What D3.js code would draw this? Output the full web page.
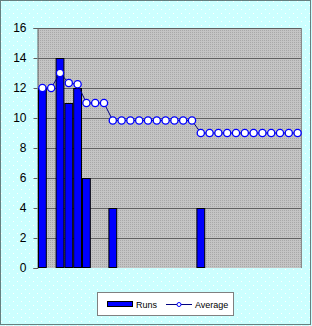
<!DOCTYPE html>
<html>
<head>
<meta charset="utf-8">
<script src="https://cdn.jsdelivr.net/npm/d3@7"></script>
<style>
  body { margin: 0; background: #fff; }
  svg { display: block; font-family: Arial, "Liberation Sans", sans-serif; }
</style>
</head>
<body>
<div id="chart"></div>
<script>
const innings = d3.range(1, 31);
const runs = [12, null, 14, 11, 12, 6, null, null, 4, null, null, null, null, null, null, null, null, null, 4, null, null, null, null, null, null, null, null, null, null, null];
const average = [12, 12, 13, 12.33, 12.25, 11, 11, 11,
  9.83, 9.83, 9.83, 9.83, 9.83, 9.83, 9.83, 9.83, 9.83, 9.83,
  9, 9, 9, 9, 9, 9, 9, 9, 9, 9, 9, 9];
const yTicks = [0, 2, 4, 6, 8, 10, 12, 14, 16];

const W = 312, H = 326;
const plot = { left: 38, top: 28, right: 302, bottom: 268 };

const svg = d3.select('#chart').append('svg')
  .attr('width', W).attr('height', H);

const defs = svg.append('defs');
// dotted cyan background
const bgPat = defs.append('pattern').attr('id', 'bgdots')
  .attr('width', 8).attr('height', 8).attr('patternUnits', 'userSpaceOnUse');
bgPat.append('rect').attr('width', 8).attr('height', 8).attr('fill', '#ccffff');
bgPat.append('rect').attr('x', 1).attr('y', 1).attr('width', 1).attr('height', 1).attr('fill', '#ffffff');
bgPat.append('rect').attr('x', 5).attr('y', 5).attr('width', 1).attr('height', 1).attr('fill', '#ffffff');
// dotted grey plot area
const plPat = defs.append('pattern').attr('id', 'plotdots')
  .attr('width', 2).attr('height', 2).attr('patternUnits', 'userSpaceOnUse');
plPat.append('rect').attr('width', 2).attr('height', 2).attr('fill', '#c4c4c4');
plPat.append('rect').attr('width', 1).attr('height', 1).attr('fill', '#a8a8a8');

svg.append('rect').attr('width', W).attr('height', H).attr('fill', 'url(#bgdots)');
svg.append('rect')
  .attr('x', 0.5).attr('y', 0.5).attr('width', W - 2).attr('height', H - 2)
  .attr('fill', 'none').attr('stroke', '#000').attr('stroke-dasharray', '1,1');

const x = d3.scaleBand().domain(innings).range([plot.left, plot.right]).padding(0);
const y = d3.scaleLinear().domain([0, 16]).range([plot.bottom, plot.top]);

// plot area with shadow edge
svg.append('rect')
  .attr('x', plot.left).attr('y', plot.top)
  .attr('width', plot.right - plot.left).attr('height', plot.bottom - plot.top)
  .attr('fill', 'url(#plotdots)');
svg.append('line')
  .attr('x1', plot.right - 0.5).attr('x2', plot.right - 0.5)
  .attr('y1', plot.top).attr('y2', plot.bottom)
  .attr('stroke', '#8a8a8a').attr('stroke-width', 1);

// gridlines
svg.append('g').selectAll('line')
  .data(yTicks.filter(d => d > 0))
  .enter().append('line')
  .attr('x1', plot.left).attr('x2', plot.right - 1)
  .attr('y1', d => Math.round(y(d)) + 0.5).attr('y2', d => Math.round(y(d)) + 0.5)
  .attr('stroke', '#606060');

// y axis
const yAxis = svg.append('g')
  .attr('transform', `translate(${plot.left - 0.5},0)`)
  .call(d3.axisLeft(y).tickValues(yTicks).tickSize(4).tickPadding(7));
yAxis.select('.domain').attr('stroke', '#606060');
yAxis.selectAll('.tick line').attr('stroke', '#606060');
yAxis.selectAll('.tick text')
  .attr('font-size', 12).attr('fill', '#000')
  .attr('font-family', 'Arial, "Liberation Sans", sans-serif');

// bars
svg.append('g').selectAll('rect')
  .data(innings.map((d, i) => ({ k: d, v: runs[i] })).filter(d => d.v != null))
  .enter().append('rect')
  .attr('x', d => x(d.k) + 0.5)
  .attr('y', d => y(d.v) + 0.5)
  .attr('width', x.bandwidth() - 1)
  .attr('height', d => y(0) - y(d.v) - 1)
  .attr('fill', '#0000ff')
  .attr('stroke', '#000')
  .attr('stroke-width', 1);

// average line
const line = d3.line()
  .x((d, i) => x(innings[i]) + x.bandwidth() / 2)
  .y(d => y(d));
svg.append('path')
  .datum(average)
  .attr('d', line)
  .attr('fill', 'none')
  .attr('stroke', '#000080')
  .attr('stroke-width', 1);
svg.append('g').selectAll('circle')
  .data(average)
  .enter().append('circle')
  .attr('cx', (d, i) => x(innings[i]) + x.bandwidth() / 2)
  .attr('cy', d => y(d))
  .attr('r', 3.6)
  .attr('fill', '#fff')
  .attr('stroke', '#0000ff')
  .attr('stroke-width', 1.3);

// legend
const lg = svg.append('g');
lg.append('rect')
  .attr('x', 97.5).attr('y', 292.5).attr('width', 136).attr('height', 23)
  .attr('fill', '#fff').attr('stroke', '#808080');
lg.append('rect')
  .attr('x', 107.5).attr('y', 301.5).attr('width', 25).attr('height', 5)
  .attr('fill', '#0000ff').attr('stroke', '#000');
lg.append('text')
  .attr('x', 136).attr('y', 307.5).attr('font-size', 9).text('Runs');
lg.append('line')
  .attr('x1', 166).attr('x2', 192).attr('y1', 304.5).attr('y2', 304.5)
  .attr('stroke', '#000080');
lg.append('circle')
  .attr('cx', 179).attr('cy', 304.5).attr('r', 2)
  .attr('fill', '#fff').attr('stroke', '#0000ff');
lg.append('text')
  .attr('x', 195).attr('y', 307.5).attr('font-size', 9).text('Average');
</script>
</body>
</html>
